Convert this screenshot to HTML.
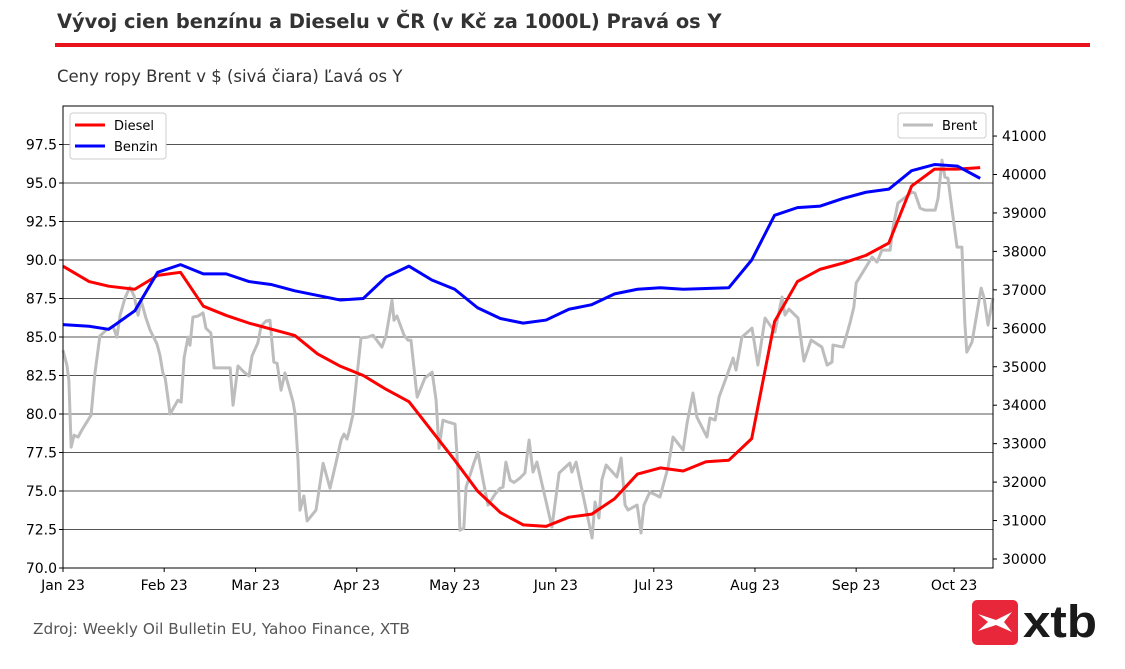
<!DOCTYPE html>
<html><head><meta charset="utf-8"><style>
body{margin:0;background:#fff;width:1125px;height:665px;overflow:hidden;font-family:"DejaVu Sans","Liberation Sans",sans-serif}
</style></head><body>
<svg id="chart" width="1125" height="665" xmlns="http://www.w3.org/2000/svg" font-family="DejaVu Sans, Liberation Sans, sans-serif">
<text x="57" y="28" font-size="19.4" font-weight="bold" fill="#333">Vývoj cien benzínu a Dieselu v ČR (v Kč za 1000L) Pravá os Y</text>
<rect x="55" y="43" width="1035" height="4" fill="#e8131b"/>
<text x="57" y="82" font-size="16.5" fill="#333">Ceny ropy Brent v $ (sivá čiara) Ľavá os Y</text>
<text x="33" y="634" font-size="15.3" fill="#555">Zdroj: Weekly Oil Bulletin EU, Yahoo Finance, XTB</text>
<g>
<rect x="972" y="600" width="46" height="45" rx="5" fill="#e8283a"/>
<path d="M978 614 L996 620 L1012 612 L1004 622 L1012 632 L996 625 L978 631 L988 622 Z" fill="#fff"/>
<text x="1023" y="637" font-size="45" font-weight="bold" fill="#1a1a1a" font-family="Liberation Sans, sans-serif" textLength="74" lengthAdjust="spacingAndGlyphs">xtb</text>
</g>
<g id="grid"></g><g id="series"></g><g id="axes"></g>
</svg>
<script>
const weekDays=[0,8,14,22,29,36,43,50,57,64,71,78,85,92,99,106,113,120,127,134,141,148,155,162,169,176,183,190,197,204,211,218,225,232,239,246,253,260,267,274,281];
const diesel=[89.6,88.6,88.3,88.1,89.0,89.2,87.0,86.4,85.9,85.5,85.1,83.9,83.1,82.5,81.6,80.8,78.9,77.0,75.0,73.6,72.8,72.7,73.3,73.5,74.5,76.1,76.5,76.3,76.9,77.0,78.4,86.0,88.6,89.4,89.8,90.3,91.1,94.8,95.9,95.9,96.0];
const benzin=[85.8,85.7,85.5,86.7,89.2,89.7,89.1,89.1,88.6,88.4,88.0,87.7,87.4,87.5,88.9,89.6,88.7,88.1,86.9,86.2,85.9,86.1,86.8,87.1,87.8,88.1,88.2,88.1,88.15,88.2,90.0,92.9,93.4,93.5,94.0,94.4,94.6,95.8,96.2,96.1,95.3];
const brentDays=[0,1.2,1.8,2.5,3.4,4.6,6.1,8.6,9.8,11.3,13.2,15.3,16.5,17.5,19,20.5,21.8,23,23.9,25.4,26.7,28.8,29.7,30.6,31.3,31.9,32.8,35.2,36.2,37.1,38.3,38.9,39.8,41.4,42.9,43.8,45.3,46.3,48.1,51.2,52.1,53.6,55.5,57,57.9,59.7,60.7,62.2,63.4,64.6,65.6,66.8,68,70.5,71.1,72,72.6,73.8,74.8,77.5,79.7,81.8,83.6,85.2,86.1,87,87.6,88.8,91.3,93.4,95,97.7,99,100.8,101.4,102.3,104.5,105.7,106.6,108.5,110.9,113.1,114.3,115.2,116.4,118,120.1,121,121.6,122.8,123.5,124.7,125.9,127.1,128.7,130.2,132.4,133.9,134.8,135.7,137,138.2,140,141.5,142.8,144,145.2,149.8,152,155.3,155.9,157.2,162.1,163,164.2,165.1,166.4,169.7,171,172.2,173.1,175.9,177.1,178,179.8,182.9,185.4,186.9,190,191.2,193,194.2,197.3,198.2,199.8,201,203.7,205.3,206.2,208,211.1,212.9,215.1,218.1,220.3,221.2,222.4,225.2,227,229.2,232.5,234.1,235.6,235.9,239,241.1,242.3,243,247.9,249.4,250.9,253.4,254.3,255.8,260.1,261,262.6,264.1,267.2,268.1,269.3,270.2,271.1,273.9,275.4,276.3,276.9,278.5,281.3,282.2,283.4,284.9];
const brent=[35430,35040,34650,32910,33220,33170,33400,33740,34840,35800,35950,36060,35770,36340,36790,37070,36840,36340,36730,36270,35950,35590,35300,34840,34710,34340,33770,34130,34080,35230,35770,35560,36290,36320,36400,36000,35880,34970,34970,34970,34000,35020,34860,34760,35280,35620,36060,36190,36210,35120,35090,34390,34840,34080,33770,32570,31270,31640,30990,31270,32490,31840,32490,33090,33250,33120,33300,33740,35750,35770,35820,35510,35820,36730,36210,36320,35820,35690,35690,34210,34710,34860,34130,32880,33610,33560,33510,32310,30750,30800,31870,32180,32500,32780,32050,31400,31690,31840,31870,32520,32050,31990,32106,32236,33094,32262,32522,30832,32236,32496,32262,32522,30546,31482,31066,32054,32444,32132,32626,31404,31274,31404,30676,31404,31742,31612,32392,33172,32834,33536,34316,33692,33172,33666,33614,34212,34836,35226,34914,35772,36006,35044,36266,35902,36812,36344,36500,36266,35148,35694,35512,35044,35122,35564,35512,36136,36552,37176,37852,37722,38034,38034,38632,39256,39542,39516,39126,39074,39074,39386,40374,39932,39906,38112,38112,36136,35382,35642,37046,36786,36084,36786];
const leftTicks=[70,72.5,75,77.5,80,82.5,85,87.5,90,92.5,95,97.5];
const rightTicks=[30000,31000,32000,33000,34000,35000,36000,37000,38000,39000,40000,41000];
const monthLabels=["Jan 23","Feb 23","Mar 23","Apr 23","May 23","Jun 23","Jul 23","Aug 23","Sep 23","Oct 23"];
const monthDays=[0,31,59,90,120,151,181,212,243,273];

const X0=63,X1=993,Y0=106,Y1=568;
const x=d=>X0+d*3.264;
const yL=v=>Y1-(v-70)/30*(Y1-Y0);
const yR=v=>559-(v-30000)/1000*38.45;
const NS="http://www.w3.org/2000/svg";
function mk(tag,attrs,parent,txt){const e=document.createElementNS(NS,tag);for(const k in attrs)e.setAttribute(k,attrs[k]);if(txt!==undefined)e.textContent=txt;parent.appendChild(e);return e;}
const grid=document.getElementById('grid'),ser=document.getElementById('series'),ax=document.getElementById('axes');
leftTicks.forEach(t=>{if(t===70)return;const l=mk('line',{x1:X0,x2:X1,y1:yL(t),y2:yL(t),stroke:'#555','stroke-width':1},grid);

});
function line(days,vals,yf,color,name){const p=mk('polyline',{points:days.map((d,i)=>x(d)+','+yf(vals[i])).join(' '),fill:'none',stroke:color,'stroke-width':3,'stroke-linejoin':'round'},ser);

}
line(brentDays,brent,yR,'#bdbdbd','brent-line');
line(weekDays,diesel,yL,'#ff0000','diesel-line');
line(weekDays,benzin,yL,'#0000ff','benzin-line');
const frame=mk('rect',{x:X0,y:Y0,width:X1-X0,height:Y1-Y0,fill:'none',stroke:'#000','stroke-width':1},ax);


leftTicks.forEach(t=>{const y=yL(t);mk('line',{x1:X0-4,x2:X0,y1:y,y2:y,stroke:'#000'},ax);
const tx=mk('text',{x:X0-6,y:y+5,'font-size':14,'text-anchor':'end',fill:'#000'},ax,t.toFixed(1));

});
rightTicks.forEach(t=>{const y=yR(t);mk('line',{x1:X1,x2:X1+4,y1:y,y2:y,stroke:'#000'},ax);
const tx=mk('text',{x:X1+9,y:y+5,'font-size':14,fill:'#000'},ax,String(t));

});
monthDays.forEach((d,i)=>{const xx=x(d);mk('line',{x1:xx,x2:xx,y1:Y1,y2:Y1+4,stroke:'#000'},ax);
const tx=mk('text',{x:xx,y:Y1+22,'font-size':14,'text-anchor':'middle',fill:'#000'},ax,monthLabels[i]);

});
const lg=mk('g',{},ax);


mk('rect',{x:70,y:113,width:96,height:46,rx:3,fill:'#fff',stroke:'#ccc'},lg);
mk('line',{x1:75,x2:105,y1:125,y2:125,stroke:'#ff0000','stroke-width':3},lg);
mk('text',{x:114,y:130,'font-size':13},lg,'Diesel');
mk('line',{x1:75,x2:105,y1:146,y2:146,stroke:'#0000ff','stroke-width':3},lg);
mk('text',{x:114,y:151,'font-size':13},lg,'Benzin');
const lr=mk('g',{},ax);


mk('rect',{x:898,y:113,width:88,height:25,rx:3,fill:'#fff',stroke:'#ccc'},lr);
mk('line',{x1:903,x2:933,y1:125,y2:125,stroke:'#bdbdbd','stroke-width':3},lr);
mk('text',{x:942,y:130,'font-size':13},lr,'Brent');
</script>
</body></html>
